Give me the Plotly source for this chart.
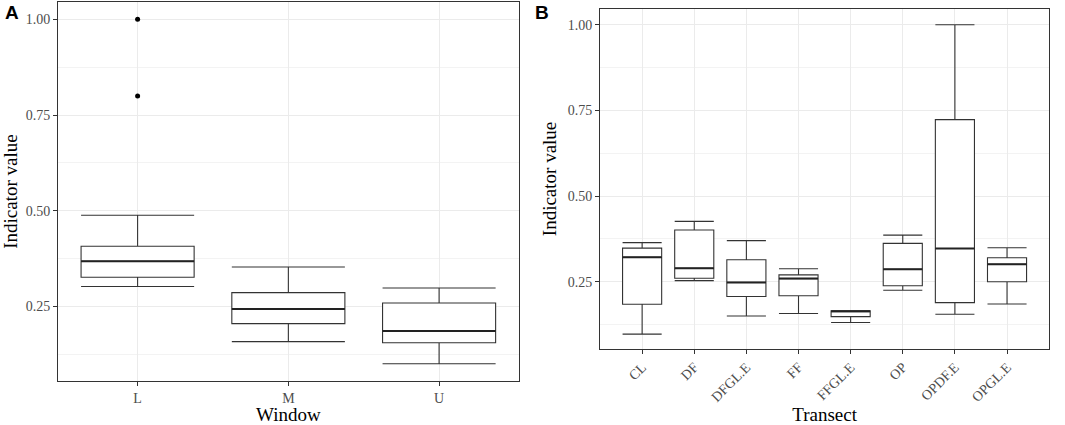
import plotly.graph_objects as go

# panel A: Window
window = ["L", "M", "U"]
win_low = [0.302, 0.158, 0.100]
win_q1 = [0.326, 0.205, 0.155]
win_med = [0.368, 0.243, 0.186]
win_q3 = [0.407, 0.286, 0.259]
win_high = [0.488, 0.353, 0.298]
win_out_x = ["L", "L"]
win_out_y = [1.00, 0.80]

# panel B: Transect
transect = ["CL", "DF", "DFGL.E", "FF", "FFGL.E", "OP", "OPDF.E", "OPGL.E"]
tr_low = [0.097, 0.253, 0.150, 0.157, 0.131, 0.225, 0.155, 0.185]
tr_q1 = [0.184, 0.260, 0.207, 0.209, 0.148, 0.238, 0.189, 0.250]
tr_med = [0.321, 0.289, 0.248, 0.259, 0.164, 0.286, 0.347, 0.301]
tr_q3 = [0.348, 0.401, 0.314, 0.270, 0.165, 0.362, 0.723, 0.320]
tr_high = [0.364, 0.426, 0.370, 0.288, 0.165, 0.386, 1.000, 0.349]

serif = "Liberation Serif"
line_col = "#333333"


def add_boxes(cats, low, q1, med, q3, high, xa, ya):
    fig.add_trace(go.Box(
        x=cats, q1=q1, median=med, q3=q3, lowerfence=low, upperfence=high,
        fillcolor="white", line=dict(color=line_col, width=1.1),
        width=0.75, whiskerwidth=1, boxpoints=False,
        xaxis=xa, yaxis=ya, showlegend=False, hoverinfo="skip"))
    # thicker median bar, like ggplot's fatten
    fig.add_trace(go.Box(
        x=cats, q1=med, median=med, q3=med, lowerfence=med, upperfence=med,
        fillcolor="rgba(0,0,0,0)", line=dict(color="#222222", width=2),
        width=0.75, whiskerwidth=1, boxpoints=False,
        xaxis=xa, yaxis=ya, showlegend=False, hoverinfo="skip"))


fig = go.Figure()
add_boxes(window, win_low, win_q1, win_med, win_q3, win_high, "x", "y")
fig.add_trace(go.Scatter(
    x=win_out_x, y=win_out_y, mode="markers",
    marker=dict(color="black", size=5),
    xaxis="x", yaxis="y", showlegend=False))
add_boxes(transect, tr_low, tr_q1, tr_med, tr_q3, tr_high, "x2", "y2")

grid = "#ebebeb"
tickfont = dict(family=serif, size=14, color="#4d4d4d")
common_y = dict(
    range=[0.055, 1.045], tickvals=[0.25, 0.5, 0.75, 1.0],
    ticktext=["0.25", "0.50", "0.75", "1.00"],
    gridcolor=grid, gridwidth=1,
    minor=dict(tickvals=[0.125, 0.375, 0.625, 0.875], gridcolor="#f3f3f3", gridwidth=1, ticks=""),
    showline=True, linecolor=line_col, linewidth=1.2, mirror=True,
    ticks="outside", ticklen=4, tickcolor=line_col, tickfont=tickfont,
    zeroline=False, automargin=False,
    title=dict(text="Indicator value", font=dict(family=serif, size=19, color="black"), standoff=6))
common_x = dict(
    gridcolor=grid, gridwidth=1,
    showline=True, linecolor=line_col, linewidth=1.2, mirror=True,
    ticks="outside", ticklen=4, tickcolor=line_col, tickfont=tickfont,
    zeroline=False, automargin=False)

fig.update_layout(
    width=1065, height=425,
    margin=dict(l=0, r=0, t=0, b=0),
    paper_bgcolor="white", plot_bgcolor="white",
    boxmode="overlay",
    xaxis=dict(domain=[0.0545, 0.487], anchor="y",
               title=dict(text="Window", font=dict(family=serif, size=19, color="black"), standoff=6),
               **common_x),
    yaxis=dict(domain=[0.1035, 0.995], anchor="x", **common_y),
    xaxis2=dict(domain=[0.5635, 0.985], anchor="y2", tickangle=-45,
                title=dict(text="Transect", font=dict(family=serif, size=19, color="black"), standoff=4),
                **common_x),
    yaxis2=dict(domain=[0.180, 0.978], anchor="x2", **common_y),
    annotations=[
        dict(text="<b>A</b>", x=0.003, y=1.0, xref="paper", yref="paper",
             xanchor="left", yanchor="top", showarrow=False,
             font=dict(family="Liberation Sans", size=19, color="black")),
        dict(text="<b>B</b>", x=0.5, y=1.0, xref="paper", yref="paper",
             xanchor="left", yanchor="top", showarrow=False,
             font=dict(family="Liberation Sans", size=19, color="black")),
    ],
)

# page has an 8px body margin by default; drop it so the figure fills the window
fig.write_html("out.html", config={"displayModeBar": False},
               post_script="document.body.style.margin='0';")
